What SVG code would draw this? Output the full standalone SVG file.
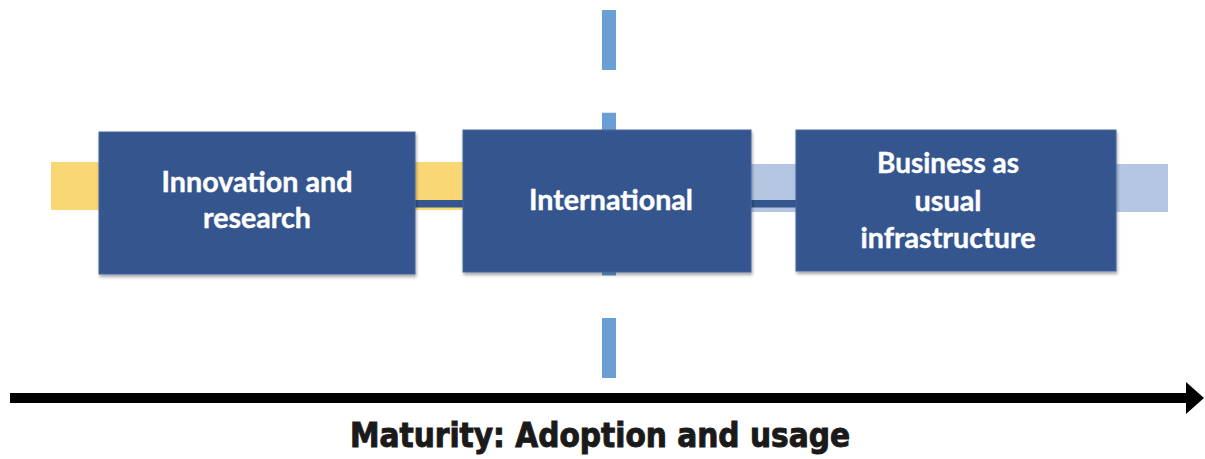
<svg xmlns="http://www.w3.org/2000/svg" width="1205" height="459" viewBox="0 0 1205 459">
  <style>
    .box { fill: #35558f; stroke: #4766a0; stroke-width: 1; filter: url(#shadow); }
    .lbl { font-family: Lato, "Open Sans", "Liberation Sans", sans-serif; font-weight: bold; font-size: 28px; fill: #ffffff; stroke: #ffffff; stroke-width: 0.4; text-anchor: middle; }
    .axis { font-family: "DejaVu Sans Condensed", "DejaVu Sans", Verdana, sans-serif; font-weight: bold; font-size: 33px; fill: #1a1a1a; stroke: #1a1a1a; stroke-width: 0.9; }
  </style>
  <defs>
    <filter id="shadow" x="-5%" y="-5%" width="112%" height="115%">
      <feDropShadow dx="1" dy="2.5" stdDeviation="1.5" flood-color="#000000" flood-opacity="0.35"/>
    </filter>
  </defs>
  <g id="connectors">
    <rect x="51" y="162" width="412" height="48" fill="#f9d774"/>
    <rect x="751" y="164" width="417" height="48" fill="#b5c6e3"/>
    <rect x="415" y="200" width="381" height="7.5" fill="#35558f"/>
    <line x1="609" y1="10" x2="609" y2="378" stroke="#6a9fd5" stroke-width="14" stroke-dasharray="60 42.7"/>
    <line x1="10" y1="398" x2="1188" y2="398" stroke="#000000" stroke-width="10"/>
    <polygon points="1186,382 1204,398 1186,414" fill="#000000"/>
  </g>
  <g id="node-innovation">
    <rect class="box" x="99" y="132" width="316" height="142"/>
    <text class="lbl" x="257" y="192" textLength="191" lengthAdjust="spacingAndGlyphs">Innovation and</text>
    <text class="lbl" x="257" y="228" textLength="108" lengthAdjust="spacingAndGlyphs">research</text>
  </g>
  <g id="node-international">
    <rect class="box" x="463" y="130" width="288" height="142"/>
    <text class="lbl" x="611" y="210" textLength="164" lengthAdjust="spacingAndGlyphs">International</text>
  </g>
  <g id="node-business">
    <rect class="box" x="796" y="130" width="320" height="141"/>
    <text class="lbl" x="948" y="173" textLength="142" lengthAdjust="spacingAndGlyphs">Business as</text>
    <text class="lbl" x="948" y="211" textLength="67" lengthAdjust="spacingAndGlyphs">usual</text>
    <text class="lbl" x="948" y="248" textLength="175" lengthAdjust="spacingAndGlyphs">infrastructure</text>
  </g>
  <text class="axis" x="350" y="447" textLength="500" lengthAdjust="spacingAndGlyphs">Maturity: Adoption and usage</text>
</svg>
